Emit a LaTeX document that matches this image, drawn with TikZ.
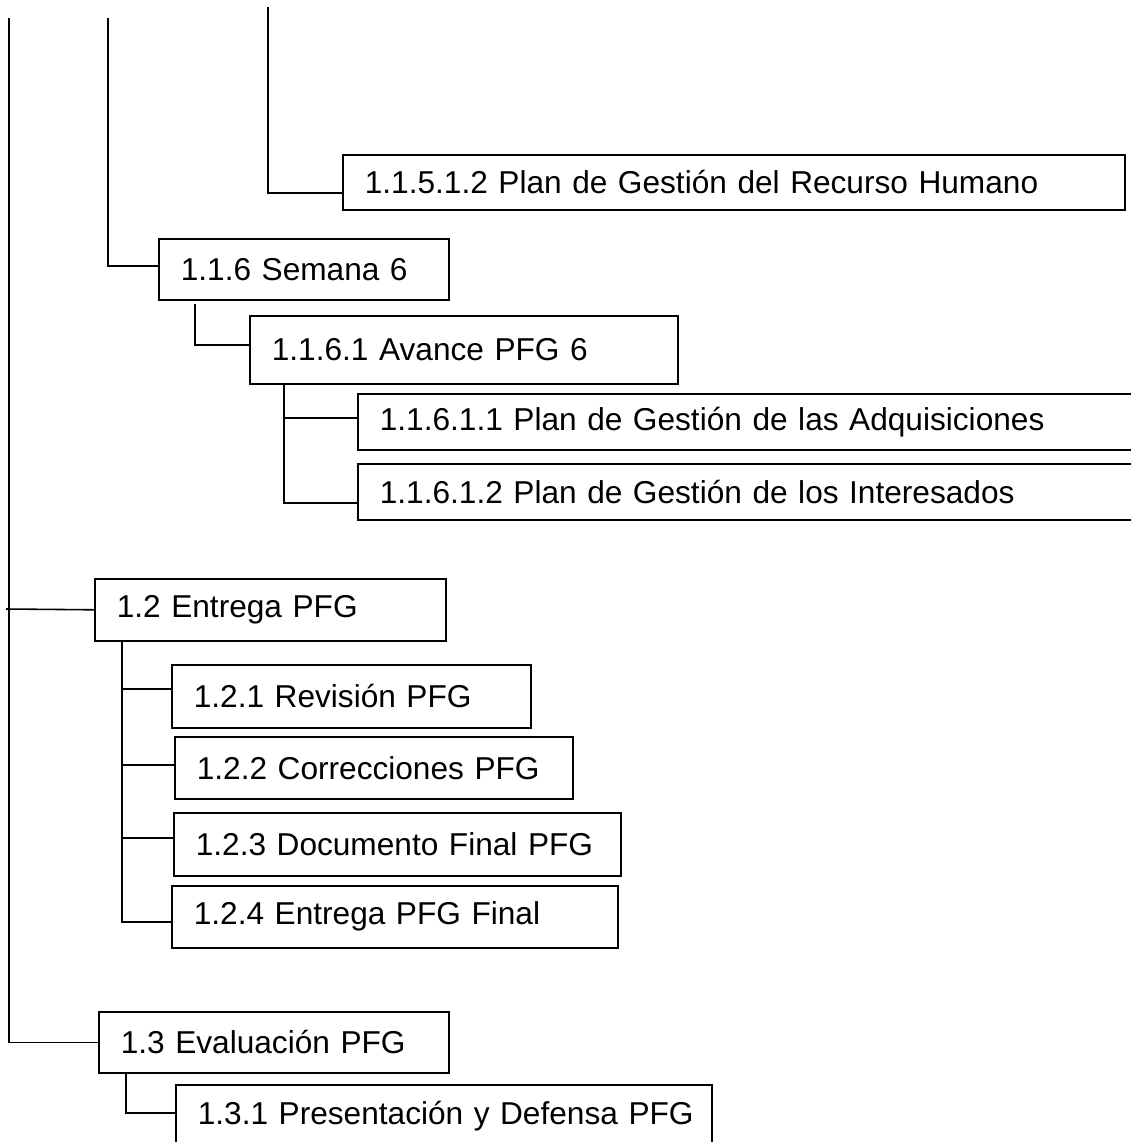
\documentclass[tikz,border=0pt]{standalone}
\usepackage{fontspec}
\setmainfont{Liberation Sans}
\usepackage{tikz}

\begin{document}
\begin{tikzpicture}[
        wbs/.style={draw,anchor=north west,align=left,inner xsep=0.22cm,inner ysep=0pt,
            line width=0.45pt,font=\fontsize{9}{11}\selectfont},
        link/.style={line width=0.45pt}]

    \clip (0,0) rectangle (11.31,-11.42);
    \fill[white] (0,0) rectangle (11.31,-11.42);

    % Open ends of the upper branches
    \coordinate (top1) at (0.09,-0.18);
    \coordinate (top2) at (1.08,-0.18);
    \coordinate (top3) at (2.68,-0.07);
    \coordinate (j12) at (0.06,-6.09);

    % Week 5 remainder
    \node[wbs,text width=7.38cm,minimum height=0.55cm] (b11512) at (3.42,-1.54) {1.1.5.1.2 Plan de Gestión del Recurso Humano};

    % Week 6
    \node[wbs,text width=2.46cm,minimum height=0.61cm] (b116) at (1.58,-2.38) {1.1.6 Semana 6};
    \node[wbs,text width=3.84cm,minimum height=0.68cm] (b1161) at (2.49,-3.15) {1.1.6.1 Avance PFG 6};
    \node[wbs,text width=7.46cm,minimum height=0.56cm] (b11611) at (3.57,-3.93) {1.1.6.1.1 Plan de Gestión de las Adquisiciones};
    \node[wbs,text width=7.46cm,minimum height=0.56cm] (b11612) at (3.57,-4.63) {1.1.6.1.2 Plan de Gestión de los Interesados};

    % Delivery
    \node[wbs,text width=3.07cm,minimum height=0.62cm] (b12) at (0.94,-5.78) {1.2 Entrega PFG};
    \node[wbs,text width=3.15cm,minimum height=0.63cm] (b121) at (1.71,-6.64) {1.2.1 Revisión PFG};
    \node[wbs,text width=3.54cm,minimum height=0.62cm] (b122) at (1.74,-7.36) {1.2.2 Correcciones PFG};
    \node[wbs,text width=4.03cm,minimum height=0.63cm] (b123) at (1.73,-8.12) {1.2.3 Documento Final PFG};
    \node[wbs,text width=4.02cm,minimum height=0.62cm] (b124) at (1.71,-8.85) {1.2.4 Entrega PFG Final};

    % Evaluation
    \node[wbs,text width=3.06cm,minimum height=0.61cm] (b13) at (0.98,-10.11) {1.3 Evaluación PFG};
    \node[wbs,text width=4.92cm,minimum height=0.62cm] (b131) at (1.75,-10.84) {\mbox{1.3.1 Presentación y Defensa PFG}};

    % Edges from the open ends
    \draw[link] (top1) |- (b13.west);
    \draw[link] (j12) -- (b12.west);
    \draw[link] (top2) |- ([yshift=0.035cm]b116.west);
    \draw[link] (top3) |- ([yshift=-0.105cm]b11512.west);

    % Edges in week 6
    \draw[link] (b116.south west) ++(0.37,-0.03) |- ([yshift=0.05cm]b1161.west);
    \draw[link] (b1161.south west) ++(0.35,0) |- ([yshift=0.04cm]b11611.west);
    \draw[link] (b1161.south west) ++(0.35,0) |- ([yshift=-0.11cm]b11612.west);

    % Edges under 1.2
    \draw[link] (b12.south west) ++(0.28,0) |- ([yshift=0.075cm]b121.west);
    \draw[link] (b12.south west) ++(0.28,0) |- ([yshift=0.03cm]b122.west);
    \draw[link] (b12.south west) ++(0.28,0) |- ([yshift=0.065cm]b123.west);
    \draw[link] (b12.south west) ++(0.28,0) |- ([yshift=-0.05cm]b124.west);

    % Edge under 1.3
    \draw[link] (b13.south west) ++(0.28,0) |- ([yshift=0.03cm]b131.west);
\end{tikzpicture}
\end{document}
